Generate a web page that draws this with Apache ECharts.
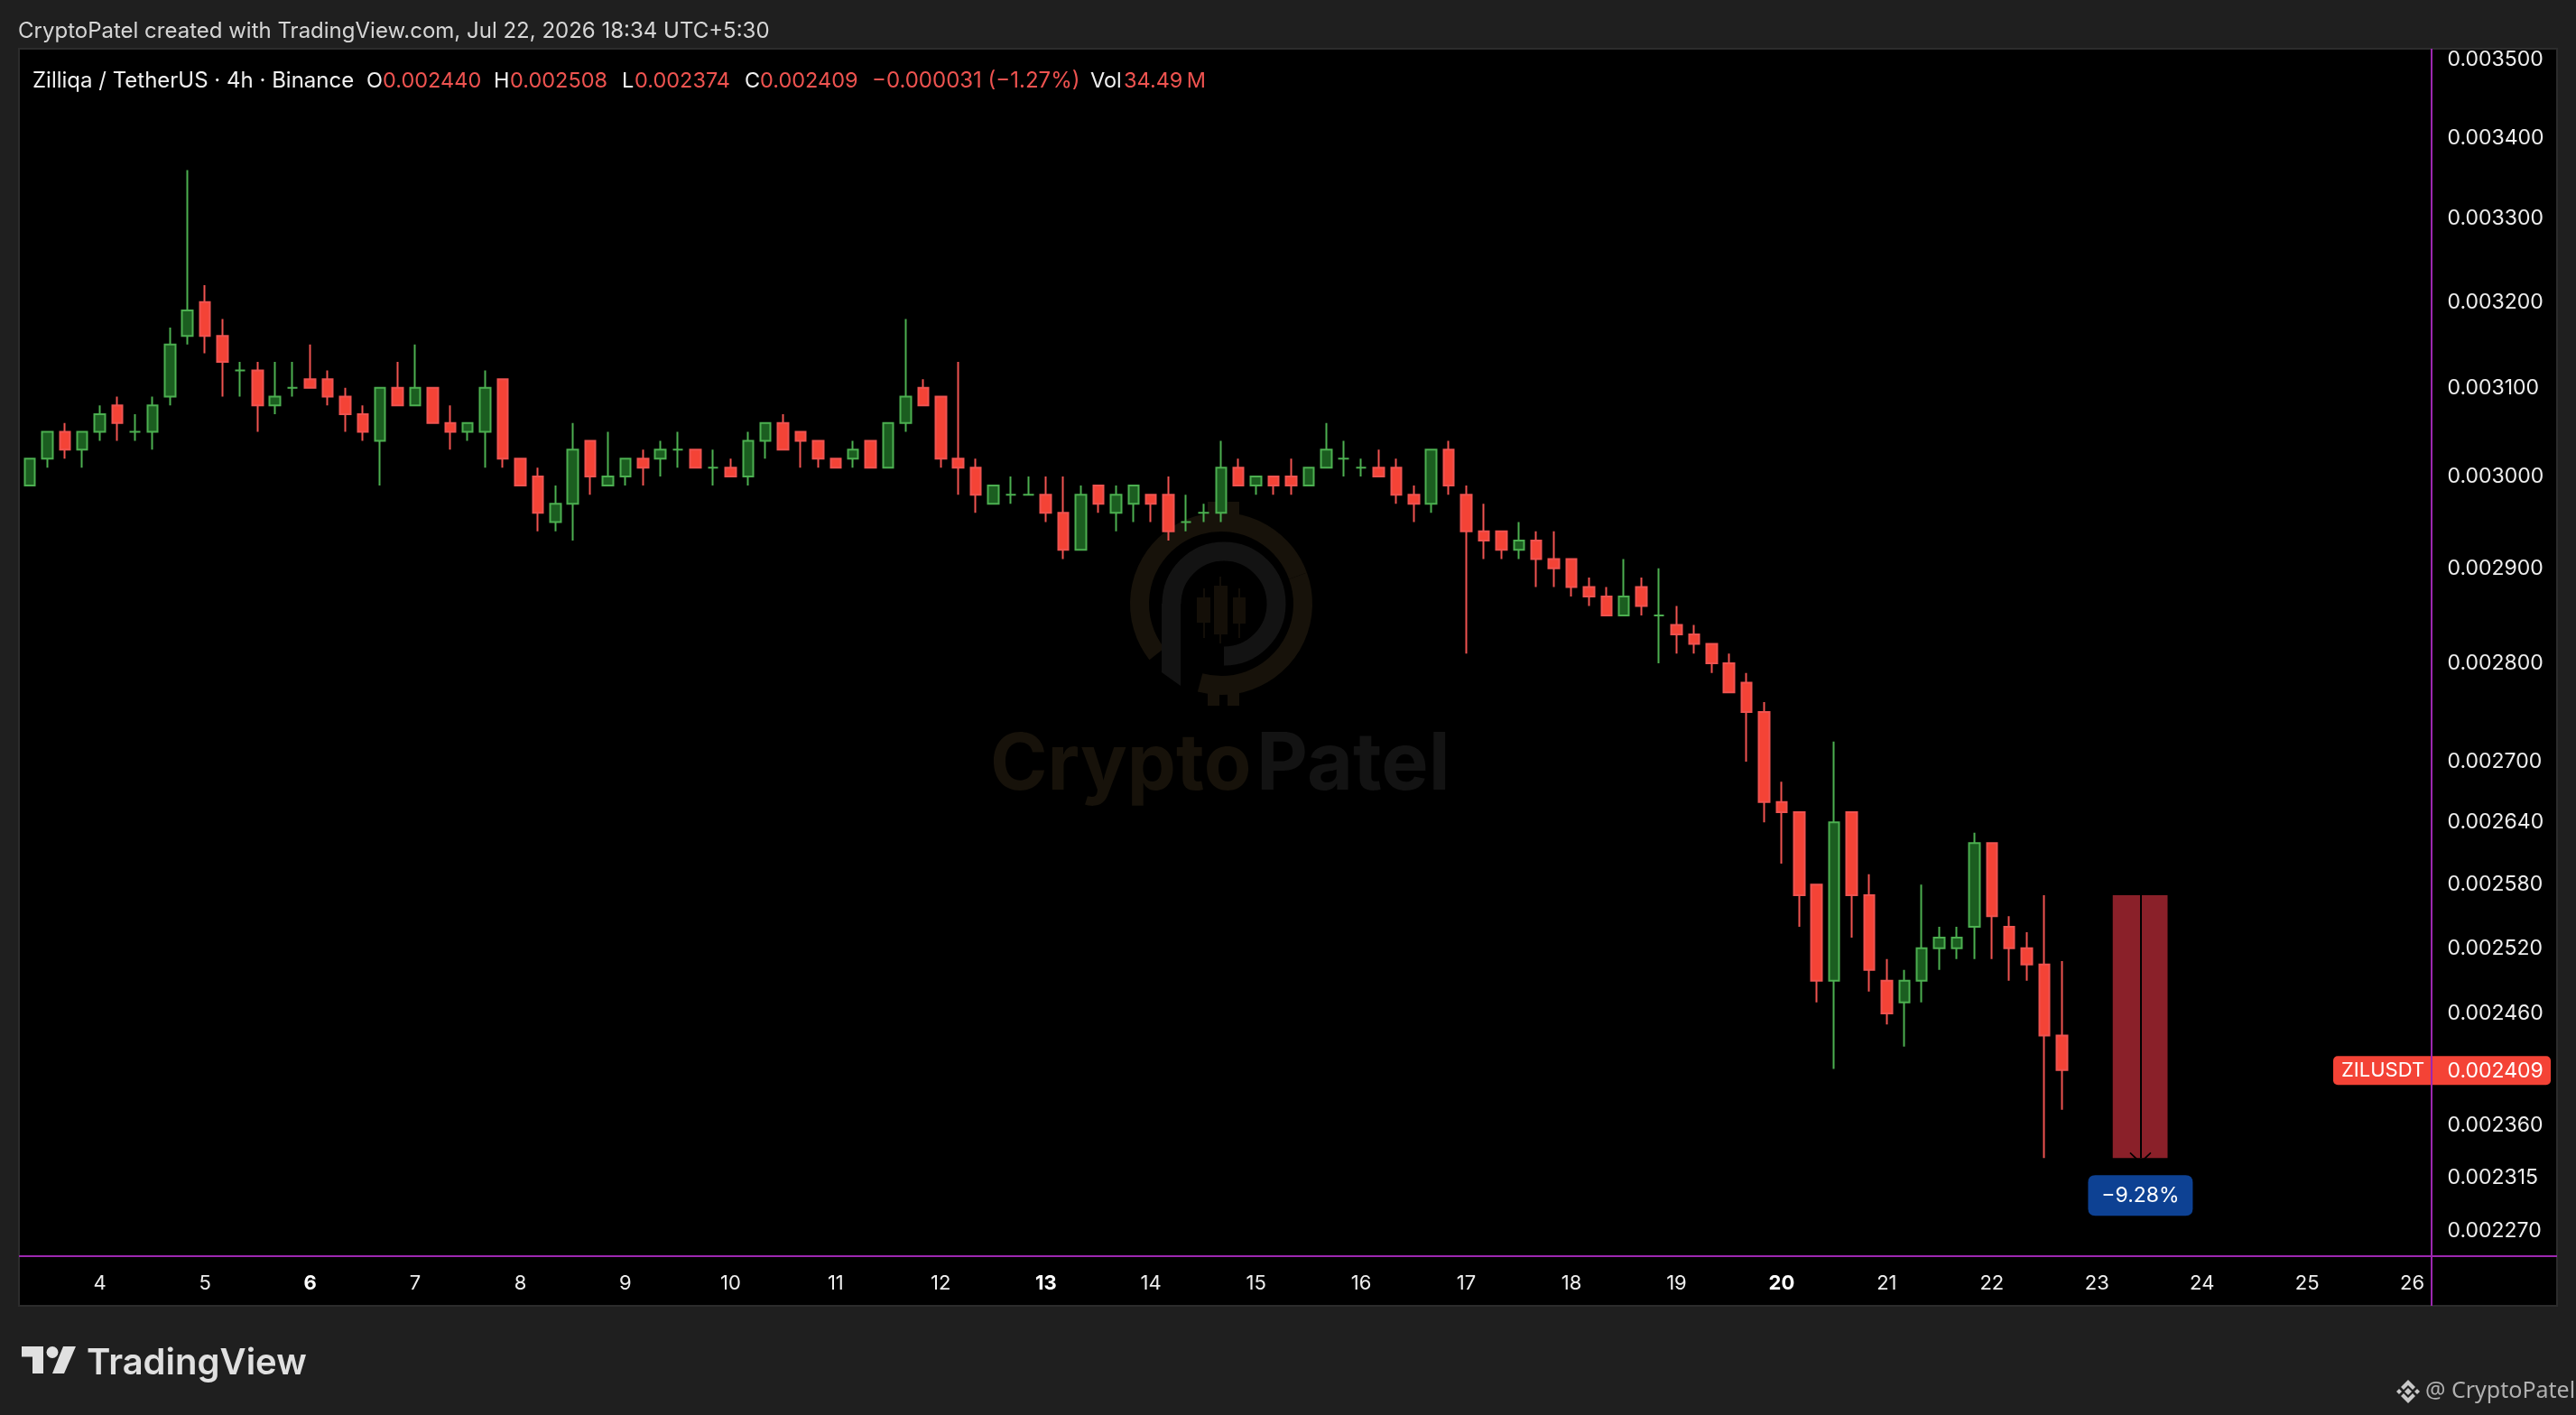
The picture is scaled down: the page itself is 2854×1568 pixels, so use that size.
<!DOCTYPE html>
<html><head><meta charset="utf-8">
<style>html,body{margin:0;padding:0;background:#1f1f1f}#c{width:2854px;height:1568px}</style>
<script src="https://cdn.jsdelivr.net/npm/echarts@6/dist/echarts.min.js"></script>
</head><body><div id="c"></div>
<script>
// prices in units of 0.00001 USDT
const PRICE_UNIT = 1e-5;
const opens = [299,302,305,303,305,308,305,305,309,316,320,316,312,312,308,310,311,311,309,307,304,310,308,310,306,305,305,311,302,300,295,297,304,299,300,302,302,303,303,301,301,300,304,306,305,304,302,302,304,301,306,310,309,302,301,297,298,298,298,296,292,299,296,297,298,298,295,296,296,301,299,300,300,299,301,302,301,301,301,298,297,303,298,294,294,292,293,291,291,288,287,285,288,285,284,283,282,280,278,275,266,265,258,249,265,257,249,247,249,252,252,254,262,254,252,250.5,244];
const closes = [302,305,303,305,307,306,305,308,315,319,316,313,312,308,309,310,310,309,307,305,310,308,310,306,305,306,310,302,299,296,297,303,300,300,302,301,303,303,301,301,300,304,306,303,304,302,301,303,301,306,309,308,302,301,298,299,298,298,296,292,298,297,298,299,297,294,295,296,301,299,300,299,299,301,303,302,301,300,298,297,303,299,294,293,292,293,291,290,288,287,285,287,286,285,283,282,280,277,275,266,265,257,249,264,257,250,246,249,252,253,253,262,255,252,250.5,244,240.9];
const lows = [299,301,302,301,304,304,304,303,308,315,314,309,309,305,307,309,310,308,305,304,299,308,308,306,303,304,301,301,299,294,294,293,298,299,299,299,300,301,301,299,300,299,302,303,301,301,301,301,301,301,305,308,301,298,296,297,297,298,295,291,292,296,294,295,295,293,294,295,295,299,298,298,298,299,301,300,300,300,297,295,296,298,281,291,291,291,288,288,287,286,285,285,285,280,281,281,279,277,270,264,260,254,247,241,253,248,245,243,247,250,251,251,251,249,249,233.2,237.4];
const highs = [302,305,306,305,308,309,307,309,317,336,322,318,313,313,313,313,315,312,310,308,310,313,315,310,308,306,312,311,302,301,299,306,304,305,302,303,304,305,303,303,302,305,306,307,305,304,302,304,304,306,318,311,309,313,302,299,300,300,300,300,299,299,299,299,298,300,298,297,304,302,300,300,302,301,306,304,302,303,302,299,303,304,299,297,294,295,294,294,291,289,288,291,289,290,286,284,282,281,279,276,268,265,258,272,265,259,251,250,258,254,254,263,262,255,253.5,257,250.8];
const dojiIndexes = [6,12,15,37,39,56,57,66,67,75,76,93];
const dayIndexes = [4,10,16,22,28,34,40,46,52,58,64,70,76,82,88,94,100,106,112,118,124,130,136];
const dayLabels = ['4','5','6','7','8','9','10','11','12','13','14','15','16','17','18','19','20','21','22','23','24','25','26'];
const boldDays = ['6','13','20'];
const priceTicks = [0.0035,0.0034,0.0033,0.0032,0.0031,0.0030,0.0029,0.0028,0.0027,0.00264,0.00258,0.00252,0.00246,0.00236,0.002315,0.00227];
const lastPrice = 0.002409;
const measureTop = 0.00257, measureBottom = 0.002332, measureStart = 118.9, measureEnd = 122.03, measureMid = 120.48;
const measureLabel = '\u22129.28%', measureLabelPrice = 0.0023;

const UI = 'Inter, "Noto Sans", sans-serif';
const GREEN='#4caf50', GREEN_BODY='#1b5e20', RED='#f44336', RED_EDGE='#ef5350';

const candleData = opens.map((o,i)=>{
  const item = {value:[i,o*PRICE_UNIT,closes[i]*PRICE_UNIT,lows[i]*PRICE_UNIT,highs[i]*PRICE_UNIT]};
  if (dojiIndexes.includes(i)) item.itemStyle={color:GREEN_BODY,color0:GREEN_BODY,borderColor:GREEN,borderColor0:GREEN,borderColorDoji:GREEN};
  return item;
});

function T(text,x,y,fill,font,align){return {type:'text',z:20,silent:true,style:{text,x,y,fill,font:font||('22px '+UI),textAlign:align||'left',textVerticalAlign:'middle'}};}
function R(x,y,w,h,fill,r,z,stroke){return {type:'rect',z:z===undefined?-5:z,silent:true,shape:{x,y,width:w,height:h,r:r||0},style:{fill,stroke:stroke||null,lineWidth:stroke?2:0}};}
function A(cx,cy,r,a0,a1,stroke,w){return {type:'arc',z:-4,silent:true,shape:{cx,cy,r,startAngle:a0*Math.PI/180,endAngle:a1*Math.PI/180,clockwise:true},style:{stroke,lineWidth:w,fill:null}};}
function PG(points,fill,z){return {type:'polygon',z:z===undefined?20:z,silent:true,shape:{points},style:{fill}};}
function L(x1,y1,x2,y2,stroke,w,z){return {type:'line',z:z||15,silent:true,shape:{x1,y1,x2,y2},style:{stroke,lineWidth:w}};}

const WM_B='#17120a', WM_G='#131313';
const decor = [
  R(21,54,2812,1393,'#000000',0,-10,'#2c2c2c'),
  // watermark
  A(1353,669,90.5,-20,105,WM_B,21), A(1353,669,90.5,142,340,WM_B,21),
  R(1338,556,13,14,WM_B,0,-4), R(1360,556,13,14,WM_B,0,-4), R(1338,768,13,14,WM_B,0,-4), R(1360,768,13,14,WM_B,0,-4),
  A(1356,669,58,180,450,WM_G,21),
  PG([[1287,669],[1308,669],[1308,760],[1287,745]],WM_G,-4),
  R(1333,652,2,55,'#120e08',0,-4), R(1326,662,15,28,'#140f08',0,-4),
  R(1351,639,2,74,'#120e08',0,-4), R(1345,649,15,54,'#140f08',0,-4),
  R(1372,652,2,55,'#120e08',0,-4), R(1366,662,14,29,'#140f08',0,-4),
  T('Crypto',1097,849,WM_B,'700 86px '+UI), T('Patel',1392,849,WM_G,'700 88px '+UI),
  // header
  T('CryptoPatel created with TradingView.com, Jul 22, 2026 18:34 UTC+5:30',20,35,'#d6d6d6','24px '+UI),
  T('Zilliqa / TetherUS \u00b7 4h \u00b7 Binance',36,90,'#f0f0f0','24px '+UI),
  T('O',406,90,'#f0f0f0','23.5px '+UI), T('0.002440',424,90,RED_EDGE,'23.5px '+UI),
  T('H',547,90,'#f0f0f0','23.5px '+UI), T('0.002508',565,90,RED_EDGE,'23.5px '+UI),
  T('L',689,90,'#f0f0f0','23.5px '+UI), T('0.002374',703,90,RED_EDGE,'23.5px '+UI),
  T('C',825,90,'#f0f0f0','23.5px '+UI), T('0.002409',842,90,RED_EDGE,'23.5px '+UI),
  T('\u22120.000031 (\u22121.27%)',966,90,RED_EDGE,'24px '+UI),
  T('Vol',1208,90,'#f0f0f0','23.5px '+UI), T('34.49\u2009M',1245,90,RED_EDGE,'23.5px '+UI),
  // purple rules
  L(21,1392,2833,1392,'#9c27b0',2), L(2694,54,2694,1447,'#9c27b0',2,25),
  // TradingView logo
  PG([[24,1492],[48,1492],[48,1522],[36,1522],[36,1503.5],[24,1503.5]],'#e0e0e0'),
  {type:'circle',z:20,silent:true,shape:{cx:58,cy:1498.5,r:6.5},style:{fill:'#e0e0e0'}},
  PG([[84,1492],[71,1522],[58,1522],[70,1492]],'#e0e0e0'),
  T('TradingView',96,1511,'#e0e0e0','600 40px '+UI),
  // credit
  PG([[2668,1529],[2676,1537],[2673,1540],[2668,1535],[2663,1540],[2660,1537]],'#c8c8c8'),
  PG([[2668,1555],[2676,1547],[2673,1544],[2668,1549],[2663,1544],[2660,1547]],'#c8c8c8'),
  PG([[2668,1538],[2672,1542],[2668,1546],[2664,1542]],'#c8c8c8'),
  PG([[2658,1539],[2661,1542],[2658,1545],[2655,1542]],'#c8c8c8'),
  PG([[2678,1539],[2681,1542],[2678,1545],[2675,1542]],'#c8c8c8'),
  T('@ CryptoPatel',2687,1542,'#b0b0b0','25px "Noto Sans", sans-serif')
];

const chart = echarts.init(document.getElementById('c'),null,{renderer:'canvas'});
chart.setOption({
  animation:false,
  backgroundColor:'#1f1f1f',
  grid:{left:23.3,top:66,width:2670.7,height:1298,containLabel:false},
  xAxis:{type:'value',min:-0.5,max:137.1,splitLine:{show:false},axisLine:{show:false},axisTick:{show:false},
    axisLabel:{customValues:dayIndexes,margin:47.5,color:'#eeeeee',fontFamily:UI,fontSize:22,
      formatter:v=>{const d=dayLabels[dayIndexes.indexOf(v)]||'';return boldDays.includes(d)?'{b|'+d+'}':d;},
      rich:{b:{fontFamily:UI,fontSize:22,fontWeight:700,color:'#ffffff'}}}},
  yAxis:{type:'log',logBase:10,position:'right',min:0.00227,max:0.0035,scale:true,splitLine:{show:false},axisLine:{show:false},axisTick:{show:false},
    axisLabel:{customValues:priceTicks,margin:17.5,color:'#eeeeee',fontFamily:UI,fontSize:23,padding:[6,0,0,0],formatter:v=>Number(v).toFixed(6)}},
  series:[{type:'candlestick',barWidth:12,clip:false,data:candleData,
    itemStyle:{color:GREEN_BODY,color0:RED,borderColor:GREEN,borderColor0:RED_EDGE,borderWidth:2},
    markArea:{silent:true,itemStyle:{color:'#8a2029'},data:[[{coord:[measureStart,measureTop]},{coord:[measureEnd,measureBottom]}]]},
    markLine:{silent:true,animation:false,symbol:['none','path://M0,0 L12,12 L11,13.4 L0,2.8 L-11,13.4 L-12,12 Z'],symbolSize:[24,13],precision:8,
      lineStyle:{color:'#000',width:2,type:'solid'},label:{show:false},
      data:[[{coord:[measureMid,measureTop]},{coord:[measureMid,measureBottom]}]]},
    markPoint:{silent:true,symbol:'path://M8,0 H108 Q116,0 116,8 V37 Q116,45 108,45 H8 Q0,45 0,37 V8 Q0,0 8,0 Z',symbolKeepAspect:false,symbolSize:[116,45],itemStyle:{color:'#0d4193'},
      label:{show:true,position:'inside',color:'#fff',fontFamily:UI,fontSize:23,formatter:measureLabel},
      data:[{coord:[measureMid,measureLabelPrice]}]}
  }],
  graphic:{elements:decor}
});
const tagY = chart.convertToPixel({yAxisIndex:0},lastPrice);
chart.setOption({graphic:{elements:decor.concat([
  R(2585,tagY-15.5,241,32,'#f44336',5,12),
  T('ZILUSDT',2594,tagY+1,'#ffffff','22px '+UI),
  T(lastPrice.toFixed(6),2711.5,tagY+1,'#ffffff','23px '+UI)
])}},{replaceMerge:['graphic']});
</script></body></html>
